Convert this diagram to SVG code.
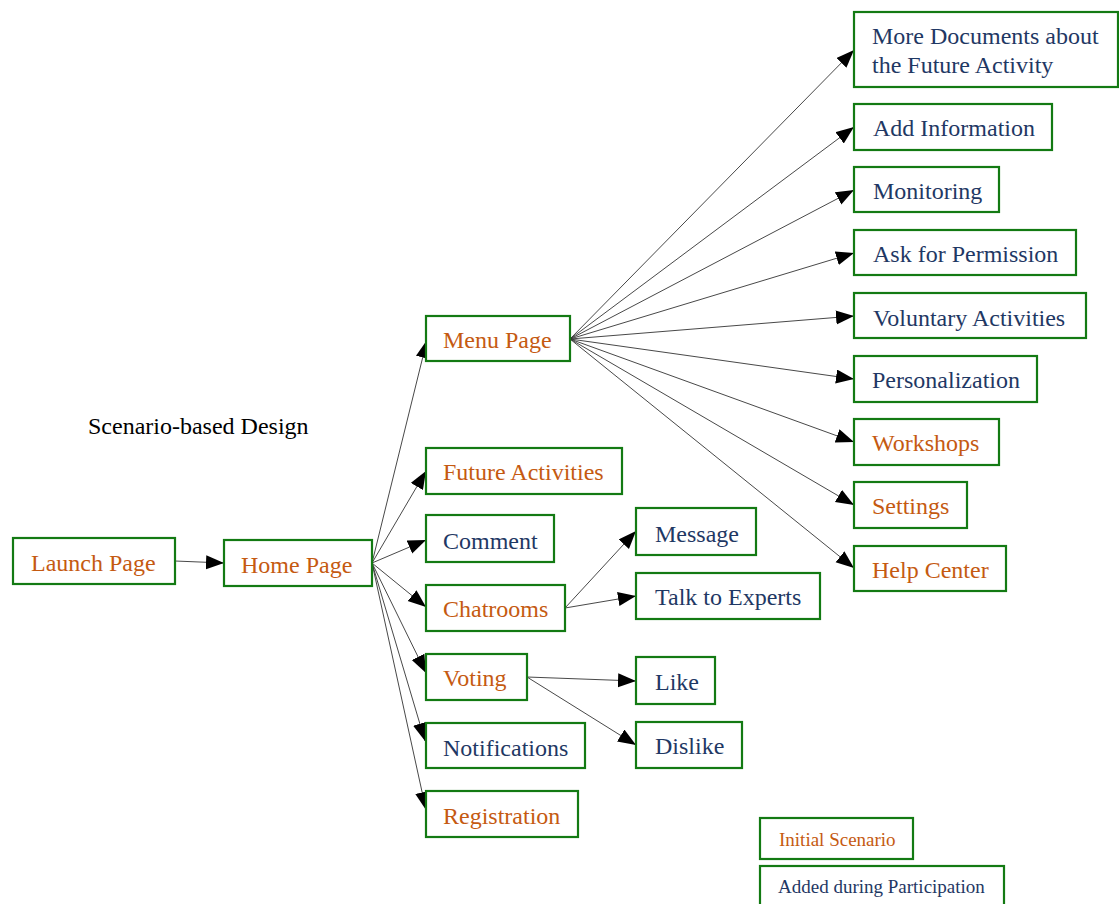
<svg xmlns="http://www.w3.org/2000/svg" width="1119" height="904" viewBox="0 0 1119 904">
<style>
.box{fill:#fff;stroke:#137a13;stroke-width:2.2}
.t{font-family:"Liberation Serif","Times New Roman",serif;font-size:24px}
.o{fill:#c55a11}
.b{fill:#1f3864}
.lg{font-size:19px}
.c line{stroke:#333;stroke-width:0.9;marker-end:url(#ah)}
</style>
<defs>
<marker id="ah" markerUnits="userSpaceOnUse" markerWidth="20" markerHeight="16" refX="18" refY="7" orient="auto">
<path d="M0,0 L18,7 L0,14 Z" fill="#000"/>
</marker>
</defs>
<rect width="1119" height="904" fill="#fff"/>
<text x="88" y="434" font-family="Liberation Serif, serif" font-size="24" fill="#000">Scenario-based Design</text>
<g class="c" id="connectors">
<line x1="175" y1="561" x2="224" y2="563"/>
<line x1="372" y1="563" x2="427" y2="340"/>
<line x1="372" y1="563" x2="426" y2="471"/>
<line x1="372" y1="563" x2="426" y2="540"/>
<line x1="372" y1="563" x2="426" y2="607"/>
<line x1="372" y1="563" x2="426" y2="673"/>
<line x1="372" y1="563" x2="425" y2="741"/>
<line x1="372" y1="563" x2="426" y2="810"/>
<line x1="565" y1="608" x2="636" y2="531"/>
<line x1="565" y1="608" x2="636" y2="596"/>
<line x1="527" y1="677" x2="636" y2="681"/>
<line x1="527" y1="677" x2="636" y2="745"/>
<line x1="570" y1="339" x2="854" y2="50"/>
<line x1="570" y1="339" x2="854" y2="127"/>
<line x1="570" y1="339" x2="854" y2="190"/>
<line x1="570" y1="339" x2="854" y2="253"/>
<line x1="570" y1="339" x2="854" y2="316"/>
<line x1="570" y1="339" x2="854" y2="379"/>
<line x1="570" y1="339" x2="854" y2="442"/>
<line x1="570" y1="339" x2="854" y2="505"/>
<line x1="570" y1="339" x2="854" y2="568"/>
</g>
<g id="launch"><rect class="box" x="13" y="538" width="162" height="46"/><text class="t o" x="31" y="571">Launch Page</text></g>
<g id="home"><rect class="box" x="224" y="540" width="148" height="46"/><text class="t o" x="241" y="573">Home Page</text></g>
<g id="menu"><rect class="box" x="426" y="316" width="144" height="45"/><text class="t o" x="443" y="348">Menu Page</text></g>
<g id="future"><rect class="box" x="426" y="448" width="196" height="46"/><text class="t o" x="443" y="480">Future Activities</text></g>
<g id="comment"><rect class="box" x="426" y="515" width="128" height="47"/><text class="t b" x="443" y="549">Comment</text></g>
<g id="chatrooms"><rect class="box" x="426" y="585" width="139" height="46"/><text class="t o" x="443" y="617">Chatrooms</text></g>
<g id="voting"><rect class="box" x="426" y="654" width="101" height="46"/><text class="t o" x="443" y="686">Voting</text></g>
<g id="notifications"><rect class="box" x="426" y="723" width="159" height="45"/><text class="t b" x="443" y="756">Notifications</text></g>
<g id="registration"><rect class="box" x="426" y="791" width="152" height="46"/><text class="t o" x="443" y="824">Registration</text></g>
<g id="message"><rect class="box" x="636" y="508" width="120" height="47"/><text class="t b" x="655" y="542">Message</text></g>
<g id="talk"><rect class="box" x="636" y="573" width="184" height="46"/><text class="t b" x="655" y="605">Talk to Experts</text></g>
<g id="like"><rect class="box" x="636" y="657" width="79" height="47"/><text class="t b" x="655" y="690">Like</text></g>
<g id="dislike"><rect class="box" x="636" y="722" width="106" height="46"/><text class="t b" x="655" y="754">Dislike</text></g>
<g id="moredocs"><rect class="box" x="854" y="12" width="264" height="75"/><text class="t b" x="872" y="44">More Documents about</text><text class="t b" x="872" y="73">the Future Activity</text></g>
<g id="addinfo"><rect class="box" x="854" y="104" width="198" height="46"/><text class="t b" x="873" y="136">Add Information</text></g>
<g id="monitoring"><rect class="box" x="854" y="167" width="145" height="45"/><text class="t b" x="873" y="199">Monitoring</text></g>
<g id="ask"><rect class="box" x="854" y="230" width="222" height="45"/><text class="t b" x="873" y="262">Ask for Permission</text></g>
<g id="voluntary"><rect class="box" x="854" y="293" width="232" height="45"/><text class="t b" x="873" y="326">Voluntary Activities</text></g>
<g id="personalization"><rect class="box" x="854" y="356" width="183" height="46"/><text class="t b" x="872" y="388">Personalization</text></g>
<g id="workshops"><rect class="box" x="854" y="419" width="145" height="46"/><text class="t o" x="872" y="451">Workshops</text></g>
<g id="settings"><rect class="box" x="854" y="482" width="113" height="46"/><text class="t o" x="872" y="514">Settings</text></g>
<g id="helpcenter"><rect class="box" x="854" y="546" width="152" height="45"/><text class="t o" x="872" y="578">Help Center</text></g>
<g id="legend-initial"><rect class="box" x="760" y="818" width="153" height="41"/><text class="t o lg" x="779" y="846">Initial Scenario</text></g>
<g id="legend-added"><rect class="box" x="760" y="866" width="244" height="44"/><text class="t b lg" x="778" y="893">Added during Participation</text></g>
</svg>
